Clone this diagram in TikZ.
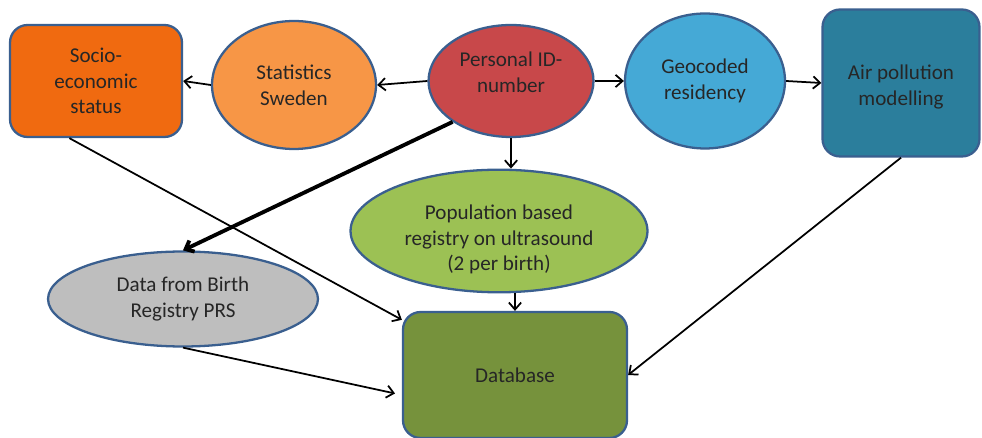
\documentclass[tikz,border=0pt]{standalone}
\usepackage{fontspec}
\setmainfont{Carlito}
\usetikzlibrary{arrows.meta}
\usetikzlibrary{shapes.geometric}

\definecolor{edgeblue}{HTML}{3A5F8F}
\definecolor{socioorange}{HTML}{F06A10}
\definecolor{statsorange}{HTML}{F79646}
\definecolor{idred}{HTML}{C8484A}
\definecolor{geoblue}{HTML}{45A9D6}
\definecolor{airteal}{HTML}{2B7E9C}
\definecolor{popgreen}{HTML}{9CC154}
\definecolor{birthgray}{HTML}{BEBEBE}
\definecolor{dbolive}{HTML}{76923C}

\begin{document}
\begin{tikzpicture}[
					x=0.02cm, y=-0.02cm,
					every node/.style={font=\fontsize{12}{14.7}\selectfont, text=black!85, align=center, inner sep=0pt},
					block/.style={draw=edgeblue, line width=1.3pt, rounded corners=10pt},
					oval/.style={ellipse, draw=edgeblue, line width=1.3pt},
					link/.style={draw, line width=1pt, -{Straight Barb[length=4pt, width=7pt]}},
					heavy/.style={link, line width=2.2pt}
				]
					\useasboundingbox (0,0) rectangle (982,438);
					% top row
					\node[block, fill=socioorange, minimum width=3.44cm, minimum height=2.24cm] (socio) at (96,81) {Socio-\\economic\\status};
					\node[oval, fill=statsorange, minimum width=3.28cm, minimum height=2.56cm] (stats) at (294,85) {Statistics\\Sweden};
					\node[oval, fill=idred, minimum width=3.3cm, minimum height=2.24cm] (pid) at (511,81) {Personal ID-\\number\rule[-10pt]{0pt}{10pt}};
					\node[oval, fill=geoblue, minimum width=3.2cm, minimum height=2.7cm] (geo) at (705,81) {Geocoded\\residency};
					\node[block, fill=airteal, minimum width=3.14cm, minimum height=2.94cm] (air) at (901,83) {\rule{0pt}{13pt}Air pollution\\modelling};
					% lower part
					\node[oval, fill=popgreen, minimum width=5.94cm, minimum height=2.3cm] (pop) at (499,231) {\rule{0pt}{18pt}Population based\\registry on ultrasound\\(2 per birth)};
					\node[oval, fill=birthgray, minimum width=5.4cm, minimum height=1.9cm] (birth) at (183,299) {Data from Birth\\Registry PRS};
					\node[block, fill=dbolive, minimum width=4.48cm, minimum height=2.52cm] (db) at (515,375) {Database};

					\draw[link] (pid.west) -- (stats.east);
					\draw[link] (stats.west) -- (socio.east);
					\draw[link] (pid.east) -- (geo.west);
					\draw[link] (geo.east) -- (air.west);
					\draw[link] (pid.south) -- (pid.south |- pop.north);
					\draw[heavy] (pid.215) -- (birth.north);
					\draw[link] (socio.245) -- (db.154);
					\draw[link] (db.north |- pop.south) -- (db.north);
					\draw[link, shorten >=4pt] (birth.south) -- (db.190);
					\draw[link] (air.south) -- (db.east);
				\end{tikzpicture}
\end{document}
